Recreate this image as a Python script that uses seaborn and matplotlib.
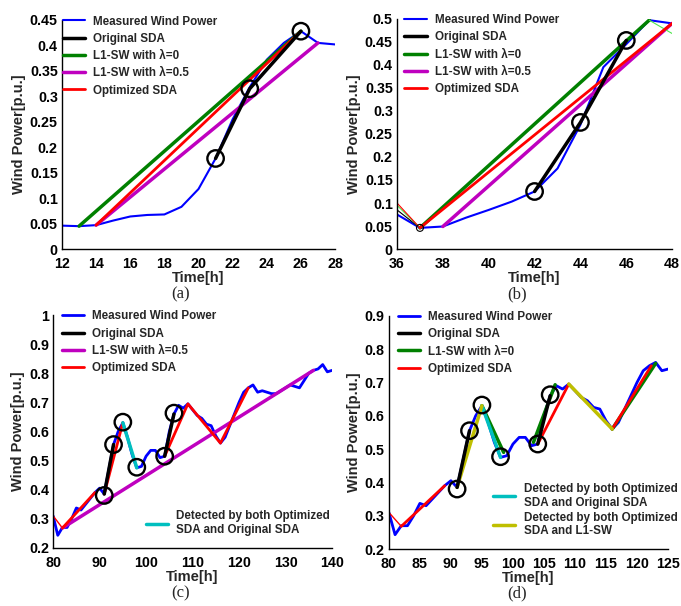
import numpy as np
import pandas as pd
import matplotlib
matplotlib.use("Agg")
import matplotlib.pyplot as plt
import seaborn as sns

sns.set_theme(style="white")
plt.rcParams['font.family'] = ['Liberation Sans', 'DejaVu Sans']

# ---------------- data ----------------
# panel (a)
a_time = list(range(12, 29))
a_power = [0.046, 0.045, 0.047, 0.056, 0.064, 0.067, 0.068, 0.083, 0.118, 0.178,
           0.255, 0.318, 0.372, 0.405, 0.428, 0.405, 0.402]
a_orig_t = [21, 23, 26]
a_orig_v = [0.178, 0.315, 0.428]
a_l1_0_t = [13, 26]
a_l1_0_v = [0.045, 0.428]
a_l1_5_t = [14, 27]
a_l1_5_v = [0.047, 0.405]
a_opt_t = [14, 26]
a_opt_v = [0.047, 0.428]

# panel (b)
b_time = list(range(36, 49))
b_power = [0.075, 0.046, 0.049, 0.068, 0.085, 0.103, 0.125, 0.175, 0.27, 0.395,
           0.445, 0.497, 0.49]
b_orig_t = [42, 44, 46]
b_orig_v = [0.125, 0.275, 0.453]
b_orig_thin_t = [36, 37]
b_orig_thin_v = [0.085, 0.046]
b_l1_0_t = [37, 47]
b_l1_0_v = [0.046, 0.497]
b_l1_0_thin_t = [36, 37]
b_l1_0_thin_v = [0.095, 0.046]
b_l1_0_tail_t = [47, 48]
b_l1_0_tail_v = [0.497, 0.468]
b_l1_5_t = [38, 48]
b_l1_5_v = [0.049, 0.49]
b_opt_t = [37, 48]
b_opt_v = [0.046, 0.49]
b_opt_thin_t = [36, 37]
b_opt_thin_v = [0.1, 0.046]

# panels (c) and (d): measured power, hourly from 80 h
cd_time = list(range(80, 141))
cd_power = [0.31, 0.243, 0.27, 0.27, 0.30, 0.337, 0.33, 0.35, 0.37, 0.39,
            0.405, 0.385, 0.47, 0.555, 0.60, 0.63, 0.58, 0.52, 0.475, 0.48,
            0.515, 0.535, 0.535, 0.51, 0.515, 0.60, 0.66, 0.69, 0.68, 0.695,
            0.675, 0.655, 0.645, 0.625, 0.62, 0.585, 0.56, 0.58, 0.62, 0.66,
            0.70, 0.735, 0.75, 0.76, 0.735, 0.74, 0.735, 0.73, 0.73, 0.74,
            0.75, 0.76, 0.755, 0.75, 0.775, 0.80, 0.81, 0.815, 0.83, 0.805,
            0.81]

# panel (c)
c_orig_segs = [([91, 93], [0.385, 0.555]), ([104, 106], [0.515, 0.66])]
c_circ_t = [91, 93, 95, 98, 104, 106]
c_circ_v = [0.38, 0.555, 0.632, 0.477, 0.515, 0.663]
c_l1_5_t = [82, 136]
c_l1_5_v = [0.268, 0.81]
c_opt_thin_t = [80, 82]
c_opt_thin_v = [0.31, 0.268]
c_opt_segs = [([82, 89], [0.268, 0.39]), ([91, 95], [0.385, 0.63]),
              ([104, 109, 116, 122], [0.515, 0.695, 0.56, 0.75])]
c_both_t = [95, 98]
c_both_v = [0.63, 0.475]

# panel (d)
d_orig_segs = [([91, 93], [0.385, 0.555]), ([104, 106], [0.515, 0.66])]
d_circ_t = [91, 93, 95, 98, 104, 106]
d_circ_v = [0.38, 0.555, 0.632, 0.477, 0.515, 0.663]
d_l1_0_segs = [([95, 98.5], [0.63, 0.49]), ([103.3, 106.8], [0.52, 0.693]),
               ([116, 123], [0.56, 0.757])]
d_opt_thin_t = [80, 82]
d_opt_thin_v = [0.31, 0.268]
d_opt_segs = [([82, 89], [0.268, 0.39]), ([104, 109], [0.515, 0.695]),
              ([116, 122.3], [0.56, 0.75])]
d_both_sda_t = [95, 98]
d_both_sda_v = [0.63, 0.475]
d_both_l1_segs = [([91, 95], [0.385, 0.63]), ([109, 116], [0.695, 0.56])]

# ---------------- style ----------------
BLUE = (0, 0, 1)
BLACK = (0, 0, 0)
GREEN = (0, 0.5, 0)
MAG = (0.75, 0, 0.75)
RED = (1, 0, 0)
CYAN = (0, 0.75, 0.75)
YEL = (0.75, 0.75, 0)
LGREEN = (0.3, 0.9, 0.3)

TICKFONT = dict(fontsize=10.3, fontweight='bold')
LABFONT = dict(fontsize=10.5, fontweight='bold')

fig = plt.figure(figsize=(6.81, 6.06), dpi=100)
ax_a = fig.add_axes([0.091, 0.589, 0.401, 0.378])
ax_b = fig.add_axes([0.583, 0.589, 0.404, 0.380])
ax_c = fig.add_axes([0.078, 0.096, 0.4095, 0.384])
ax_d = fig.add_axes([0.571, 0.094, 0.410, 0.385])


def line(ax, t, v, color, lw, label=None, zorder=2):
    sns.lineplot(x=t, y=v, ax=ax, color=color, linewidth=lw, label=label,
                 zorder=zorder, estimator=None, sort=False)


def circles(ax, t, v):
    sns.scatterplot(x=t, y=v, ax=ax, s=140, facecolors='none', edgecolor='black',
                    linewidth=1.7, marker='o', zorder=6)


def style(ax, xlim, xticks, ylim, yticks, yfmt):
    ax.set_xlim(*xlim)
    ax.set_ylim(*ylim)
    ax.set_xticks(xticks)
    ax.set_yticks(yticks)
    ax.set_xticklabels([str(x) for x in xticks], **TICKFONT)
    ax.set_yticklabels([yfmt(y) for y in yticks], **TICKFONT)
    for s in ['top', 'right']:
        ax.spines[s].set_visible(False)
    for s in ['left', 'bottom']:
        ax.spines[s].set_color('black')
        ax.spines[s].set_linewidth(1.0)
    ax.tick_params(direction='in', length=4, width=1, colors='black')
    ax.tick_params(axis='x', pad=6)
    ax.tick_params(axis='y', pad=3)
    ax.set_xlabel('Time[h]', labelpad=0, **LABFONT)
    ax.set_ylabel('Wind Power[p.u.]', labelpad=3, **LABFONT)
    ax.grid(False)


def fmt(y):
    s = ('%.2f' % y).rstrip('0').rstrip('.')
    return s


def leg(ax, loc, anchor, handles=None, labels=None, spacing=0.45):
    kw = dict(loc=loc, bbox_to_anchor=anchor, frameon=False,
              prop=dict(size=8.4, weight='bold'), handlelength=1.9,
              handletextpad=0.7, labelspacing=spacing, borderaxespad=0.0)
    if handles is not None:
        return ax.legend(handles, labels, **kw)
    return ax.legend(**kw)

# ---- (a)
ax = ax_a
line(ax, a_time, a_power, BLUE, 1.5, 'Measured Wind Power')
line(ax, a_orig_t, a_orig_v, BLACK, 2.5, 'Original SDA', zorder=4)
line(ax, a_l1_0_t, a_l1_0_v, GREEN, 2.5, 'L1-SW with \u03bb=0')
line(ax, a_l1_5_t, a_l1_5_v, MAG, 2.5, 'L1-SW with \u03bb=0.5')
line(ax, a_opt_t, a_opt_v, RED, 2.0, 'Optimized SDA', zorder=3)
circles(ax, a_orig_t, a_orig_v)
style(ax, (12, 28), list(range(12, 29, 2)), (0, 0.45),
      [0, 0.05, 0.1, 0.15, 0.2, 0.25, 0.3, 0.35, 0.4, 0.45], fmt)
leg(ax, 'upper left', (-0.015, 1.04))

# ---- (b)
ax = ax_b
line(ax, b_time, b_power, BLUE, 1.5, 'Measured Wind Power')
line(ax, b_orig_t, b_orig_v, BLACK, 2.5, 'Original SDA', zorder=4)
line(ax, b_l1_0_t, b_l1_0_v, GREEN, 2.5, 'L1-SW with \u03bb=0')
line(ax, b_l1_5_t, b_l1_5_v, MAG, 2.5, 'L1-SW with \u03bb=0.5')
line(ax, b_opt_t, b_opt_v, RED, 2.0, 'Optimized SDA', zorder=3)
line(ax, b_orig_thin_t, b_orig_thin_v, BLACK, 0.8)
line(ax, b_l1_0_thin_t, b_l1_0_thin_v, LGREEN, 0.8)
line(ax, b_opt_thin_t, b_opt_thin_v, RED, 0.8)
line(ax, b_l1_0_tail_t, b_l1_0_tail_v, LGREEN, 0.8)
circles(ax, b_orig_t, b_orig_v)
sns.scatterplot(x=[37], y=[0.046], ax=ax, s=25, facecolors='none',
                edgecolor='black', linewidth=0.8, zorder=6)
style(ax, (36, 48), list(range(36, 49, 2)), (0, 0.5),
      [0, 0.05, 0.1, 0.15, 0.2, 0.25, 0.3, 0.35, 0.4, 0.45, 0.5], fmt)
leg(ax, 'upper left', (0.01, 1.04))

# ---- (c)
ax = ax_c
line(ax, cd_time, cd_power, BLUE, 2.0, 'Measured Wind Power')
for i, (t, v) in enumerate(c_orig_segs):
    line(ax, t, v, BLACK, 2.5, 'Original SDA' if i == 0 else None, zorder=4)
line(ax, c_l1_5_t, c_l1_5_v, MAG, 2.5, 'L1-SW with \u03bb=0.5', zorder=3)
line(ax, c_opt_thin_t, c_opt_thin_v, RED, 1.0)
for i, (t, v) in enumerate(c_opt_segs):
    line(ax, t, v, RED, 2.0, 'Optimized SDA' if i == 0 else None, zorder=3)
line(ax, c_both_t, c_both_v, CYAN, 2.5, zorder=4)
circles(ax, c_circ_t, c_circ_v)
style(ax, (80, 140), list(range(80, 141, 10)), (0.2, 1.0),
      [0.2, 0.3, 0.4, 0.5, 0.6, 0.7, 0.8, 0.9, 1.0], fmt)
h, l = ax.get_legend_handles_labels()
lg1 = leg(ax, 'upper left', (0.015, 1.04), h, l)
ax.add_artist(lg1)
hc = plt.Line2D([], [], color=CYAN, lw=2.5)
leg(ax, 'lower right', (1.01, 0.03), [hc],
    ['Detected by both Optimized\nSDA and Original SDA'])

# ---- (d)
ax = ax_d
line(ax, cd_time[:46], cd_power[:46], BLUE, 2.0, 'Measured Wind Power')
for i, (t, v) in enumerate(d_orig_segs):
    line(ax, t, v, BLACK, 2.5, 'Original SDA' if i == 0 else None, zorder=5)
for i, (t, v) in enumerate(d_l1_0_segs):
    line(ax, t, v, GREEN, 2.5, 'L1-SW with \u03bb=0' if i == 0 else None, zorder=3)
line(ax, d_opt_thin_t, d_opt_thin_v, RED, 1.0)
for i, (t, v) in enumerate(d_opt_segs):
    line(ax, t, v, RED, 2.0, 'Optimized SDA' if i == 0 else None, zorder=3)
line(ax, d_both_sda_t, d_both_sda_v, CYAN, 2.5, zorder=4)
for t, v in d_both_l1_segs:
    line(ax, t, v, YEL, 2.5, zorder=4)
circles(ax, d_circ_t, d_circ_v)
style(ax, (80, 125), list(range(80, 126, 5)), (0.2, 0.9),
      [0.2, 0.3, 0.4, 0.5, 0.6, 0.7, 0.8, 0.9], fmt)
h, l = ax.get_legend_handles_labels()
lg1 = leg(ax, 'upper left', (0.015, 1.04), h, l)
ax.add_artist(lg1)
hc = plt.Line2D([], [], color=CYAN, lw=2.5)
hy = plt.Line2D([], [], color=YEL, lw=2.5)
leg(ax, 'lower right', (1.05, 0.03), [hc, hy],
    ['Detected by both Optimized\nSDA and Original SDA',
     'Detected by both Optimized\nSDA and L1-SW'], spacing=0.25)

# panel captions
for x, y, s in [(0.265, 0.515, '(a)'), (0.76, 0.515, '(b)'),
                (0.265, 0.021, '(c)'), (0.76, 0.021, '(d)')]:
    fig.text(x, y, s, ha='center', va='center', fontsize=12,
             family=['Liberation Serif', 'DejaVu Serif'])

fig.savefig('out.png', dpi=100)
